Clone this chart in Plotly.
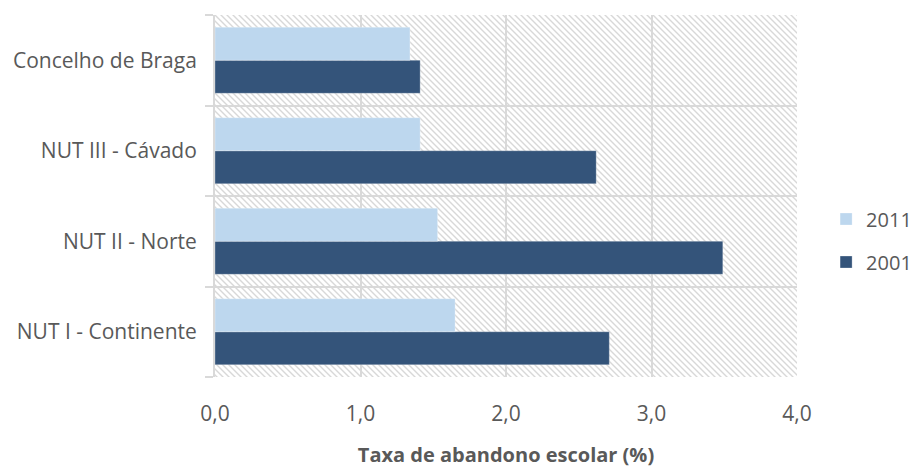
import base64
import plotly.graph_objects as go

# Dropout rate (%) by territorial unit, 2001 vs 2011
categories = ["NUT I - Continente", "NUT II - Norte", "NUT III - Cávado", "Concelho de Braga"]
values_2001 = [2.71, 3.49, 2.62, 1.41]
values_2011 = [1.65, 1.53, 1.41, 1.34]
x_ticks = [0, 1, 2, 3, 4]

TEXT = "#595959"
GRID = "#D9D9D9"
FONT = "'Open Sans', Lato, sans-serif"

# diagonal hatch used as the plot-area fill
plot_w, plot_h = 582, 362
hatch_svg = f"""<svg xmlns='http://www.w3.org/2000/svg' width='{plot_w}' height='{plot_h}'>
<defs><pattern id='h' width='6' height='6' patternUnits='userSpaceOnUse'>
<path d='M-1,-1 L7,7 M-1,5 L1,7 M5,-1 L7,1' stroke='#D8D8D8' stroke-width='1.4'/>
</pattern></defs>
<rect width='100%' height='100%' fill='white'/>
<rect width='100%' height='100%' fill='url(#h)'/>
</svg>"""
hatch_uri = "data:image/svg+xml;base64," + base64.b64encode(hatch_svg.encode()).decode()

fig = go.Figure()
fig.add_trace(go.Bar(
    name="2001", y=categories, x=values_2001, orientation="h",
    marker=dict(color="#34547A", line=dict(color="rgba(255,255,255,0.35)", width=0.8)),
    legendgroup="g2001", legendrank=2,
))
fig.add_trace(go.Bar(
    name="2011", y=categories, x=values_2011, orientation="h",
    marker=dict(color="#BDD7EE", line=dict(color="rgba(255,255,255,0.35)", width=0.8)),
    legendgroup="g2011", legendrank=1,
))

fig.update_layout(
    width=912, height=470,
    margin=dict(l=215, r=115, t=15, b=93, autoexpand=False),
    paper_bgcolor="white", plot_bgcolor="white",
    barmode="group", bargap=0.27, bargroupgap=0,
    separators=", ",
    font=dict(family=FONT, size=20, color=TEXT),
    images=[dict(source=hatch_uri, xref="paper", yref="paper", x=0, y=1,
                 sizex=1, sizey=1, sizing="stretch", layer="below")],
    legend=dict(x=1.05, y=0.377, xanchor="left", yanchor="middle",
                traceorder="grouped", tracegroupgap=14,
                font=dict(size=20, color=TEXT), itemwidth=30),
    xaxis=dict(
        range=[0, 4], tickvals=x_ticks, tickformat=".1f",
        showgrid=True, gridcolor=GRID, gridwidth=2,
        showline=False, zeroline=False, automargin=False,
        ticks="outside", ticklen=18, tickcolor="rgba(0,0,0,0)",
        tickfont=dict(size=21),
        title=dict(text="<b>Taxa de abandono escolar (%)</b>", standoff=21,
                   font=dict(size=20, color=TEXT)),
    ),
    yaxis=dict(
        categoryorder="array", categoryarray=categories,
        tickson="boundaries", showgrid=True, gridcolor=GRID, gridwidth=2,
        showline=True, linecolor=GRID, linewidth=2, automargin=False,
        ticks="outside", ticklen=8, tickcolor=GRID, tickwidth=2,
        ticklabelstandoff=12, tickfont=dict(size=21),
    ),
)

fig.write_html("out.html")
